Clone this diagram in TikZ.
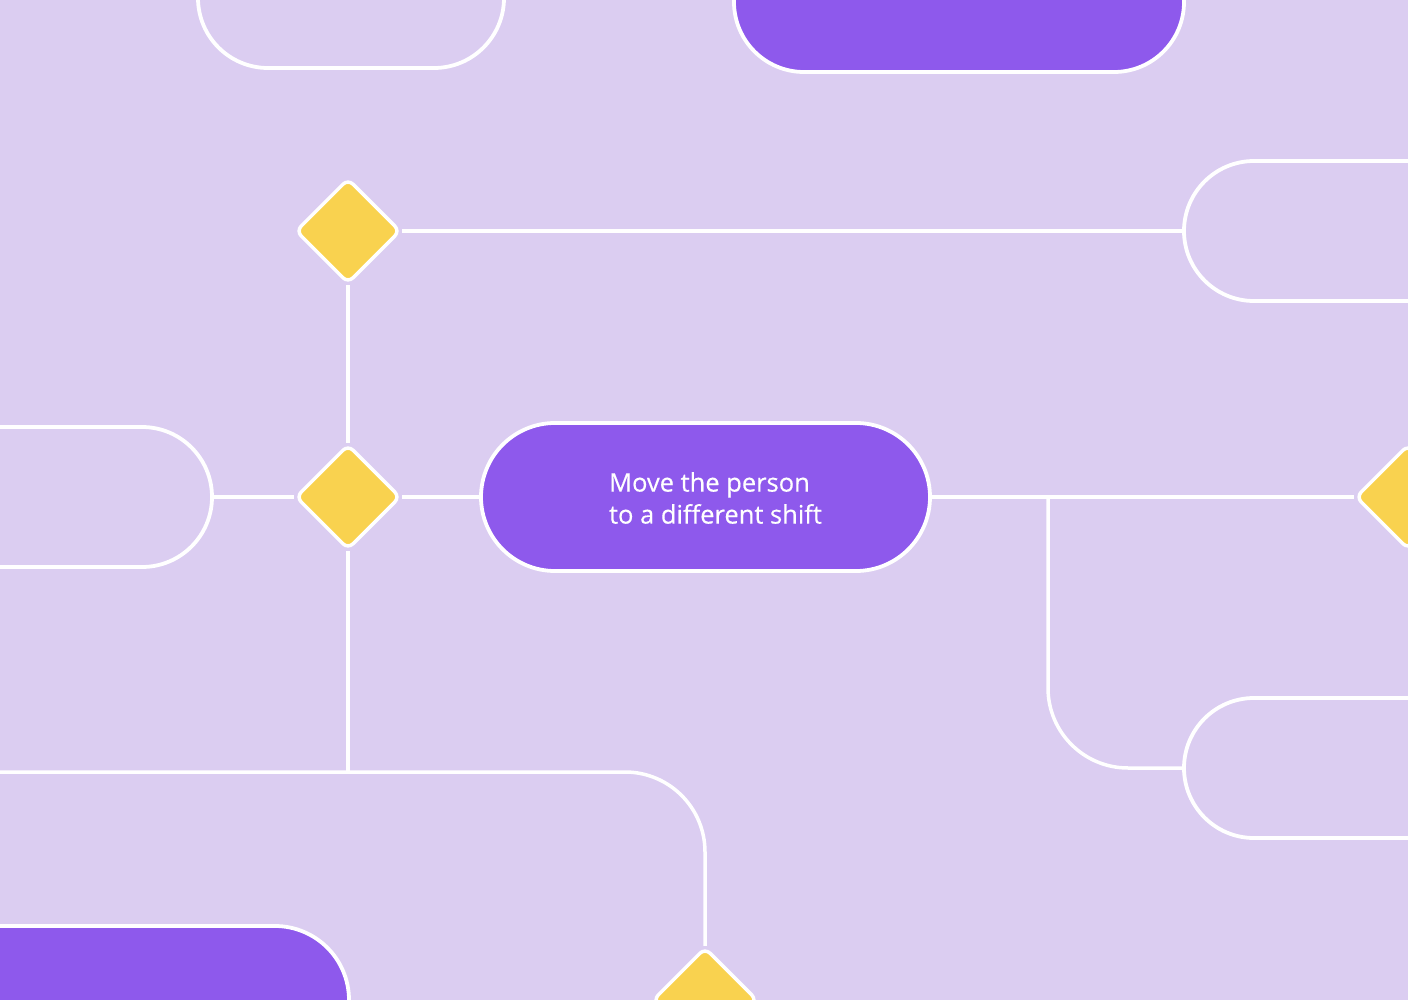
\documentclass[tikz,border=0pt]{standalone}
\usepackage{fontspec}
\setmainfont{Open Sans}
\newfontfamily\lblfont[FakeBold=0.4]{Open Sans}
\usetikzlibrary{shapes.geometric}
\definecolor{bg}{HTML}{DBCDF1}
\definecolor{purp}{HTML}{8E59EC}
\definecolor{yel}{HTML}{F9D24F}
\begin{document}
\begin{tikzpicture}[x=1pt,y=-1pt,
  conn/.style={draw=white,line width=3.5pt},
  pillout/.style={rectangle,draw=white,line width=3.8pt,rounded corners=70pt,
    minimum height=140pt,inner sep=0pt,fill=bg},
  pillfill/.style={pillout,fill=purp},
  dia/.style={diamond,aspect=1,minimum width=105pt,minimum height=105pt,
    inner sep=0pt,fill=yel,draw=white,line width=3.5pt,rounded corners=7pt},
  lbl/.style={text=white,font=\lblfont\fontsize{25.5}{32}\selectfont,align=left}
]
\fill[bg] (0,0) rectangle (1408,1000);
\useasboundingbox (0,0) rectangle (1408,1000);
\clip (0,0) rectangle (1408,1000);

% pills
\node[pillout, minimum width=306pt] (tl) at (351,-2) {};
\node[pillfill, minimum width=450pt] (tp) at (959,2) {};
\node[pillout, minimum width=416pt] (rt) at (1392,231) {};
\node[pillout, minimum width=412pt] (lp) at (6,497) {};
\node[pillfill, minimum width=449pt, minimum height=148pt, rounded corners=74pt,
  label={[lbl,xshift=10pt,yshift=-1pt]center:{Move the person\\to a different shift}}] (cp) at (705.5,497) {};
\node[pillout, minimum width=416pt] (br) at (1392,768) {};
\node[pillfill, minimum width=549pt, minimum height=148pt, rounded corners=74pt] (bl) at (74.5,1000) {};

% diamonds
\node[dia] (d1) at (348,231) {};
\node[dia] (d2) at (348,497) {};
\node[dia] (rd) at (1408,497) {};
\node[dia] (bd) at (705,1000) {};

% connectors
\coordinate (lend) at (0,772);
\coordinate (j) at (348,772);
\coordinate (brn) at (1048,497);
\draw[conn] (d1.east) -- (rt.west);
\draw[conn] (d1.south) -- (d2.north);
\draw[conn] (lp.east) -- (d2.west);
\draw[conn] (d2.east) -- (cp.west);
\draw[conn] (cp.east) -- (rd.west);
\draw[conn] (d2.south) -- (j);
\draw[conn,rounded corners=80pt] (brn) |- (br.west);
\draw[conn,rounded corners=80pt] (lend) -| (bd.north);
\end{tikzpicture}
\end{document}
